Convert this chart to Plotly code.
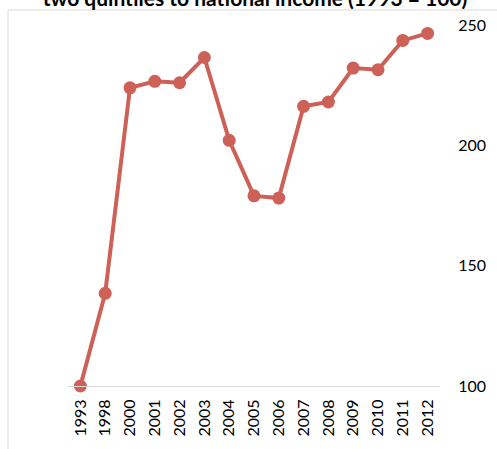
import plotly.graph_objects as go

years = ["1993", "1998", "2000", "2001", "2002", "2003", "2004", "2005",
         "2006", "2007", "2008", "2009", "2010", "2011", "2012"]
index_values = [100, 138.5, 223.9, 226.6, 226.0, 236.5, 202.1, 179.0,
                178.1, 216.2, 218.0, 232.1, 231.4, 243.6, 246.5]
y_ticks = [100, 150, 200, 250]
title_text = "two quintiles to national income (1993 = 100)"

W, H = 497, 449
ML, MR, MT, MB = 68, 57, 25, 63
LINE_COLOR = "#CD6158"
FONT = "Lato, Carlito, Calibri, sans-serif"

fig = go.Figure()
fig.add_trace(go.Scatter(
    x=years, y=index_values, mode="lines+markers",
    line=dict(color=LINE_COLOR, width=4),
    marker=dict(color=LINE_COLOR, size=13),
    cliponaxis=False, showlegend=False, hoverinfo="x+y",
))

pw = W - ML - MR
ph = H - MT - MB
# outer frame (light grey), extends beyond the visible crop at right/bottom
fx0 = (8 - ML) / pw
fx1 = (W + 20 - ML) / pw
fy1 = (H - 10 - MB) / ph
fy0 = (-20 - MB) / ph
fig.add_shape(type="rect", xref="paper", yref="paper",
              x0=fx0, x1=fx1, y0=fy0, y1=fy1,
              line=dict(color="#D9D9D9", width=1), fillcolor="rgba(0,0,0,0)",
              layer="below")

fig.update_layout(
    width=W, height=H,
    margin=dict(l=ML, r=MR, t=MT, b=MB, pad=0, autoexpand=False),
    paper_bgcolor="white", plot_bgcolor="white",
    font=dict(family=FONT, size=16, color="#000000"),
    title=dict(text="<b>" + title_text + "</b>", x=0.513, xanchor="center",
               y=1 - 5.5 / H, yanchor="bottom", yref="container",
               font=dict(family=FONT, size=21, color="#000000")),
    xaxis=dict(type="category", range=[-0.5, len(years) - 0.5],
               tickangle=-90, showgrid=False, automargin=False,
               showline=True, linecolor="#D9D9D9", linewidth=1,
               ticks="outside", ticklen=6, tickcolor="rgba(0,0,0,0)",
               tickfont=dict(family=FONT, size=16, color="#000000"),
               zeroline=False, fixedrange=True),
    yaxis=dict(side="right", range=[100, 250], tickvals=y_ticks,
               showgrid=False, zeroline=False, showline=False,
               automargin=False,
               ticks="outside", ticklen=14, tickcolor="rgba(0,0,0,0)",
               tickfont=dict(family=FONT, size=16, color="#000000"),
               fixedrange=True),
)

fig.write_html("out.html", config={"displayModeBar": False},
               post_script="document.body.style.margin='0';document.body.style.overflow='hidden';")
